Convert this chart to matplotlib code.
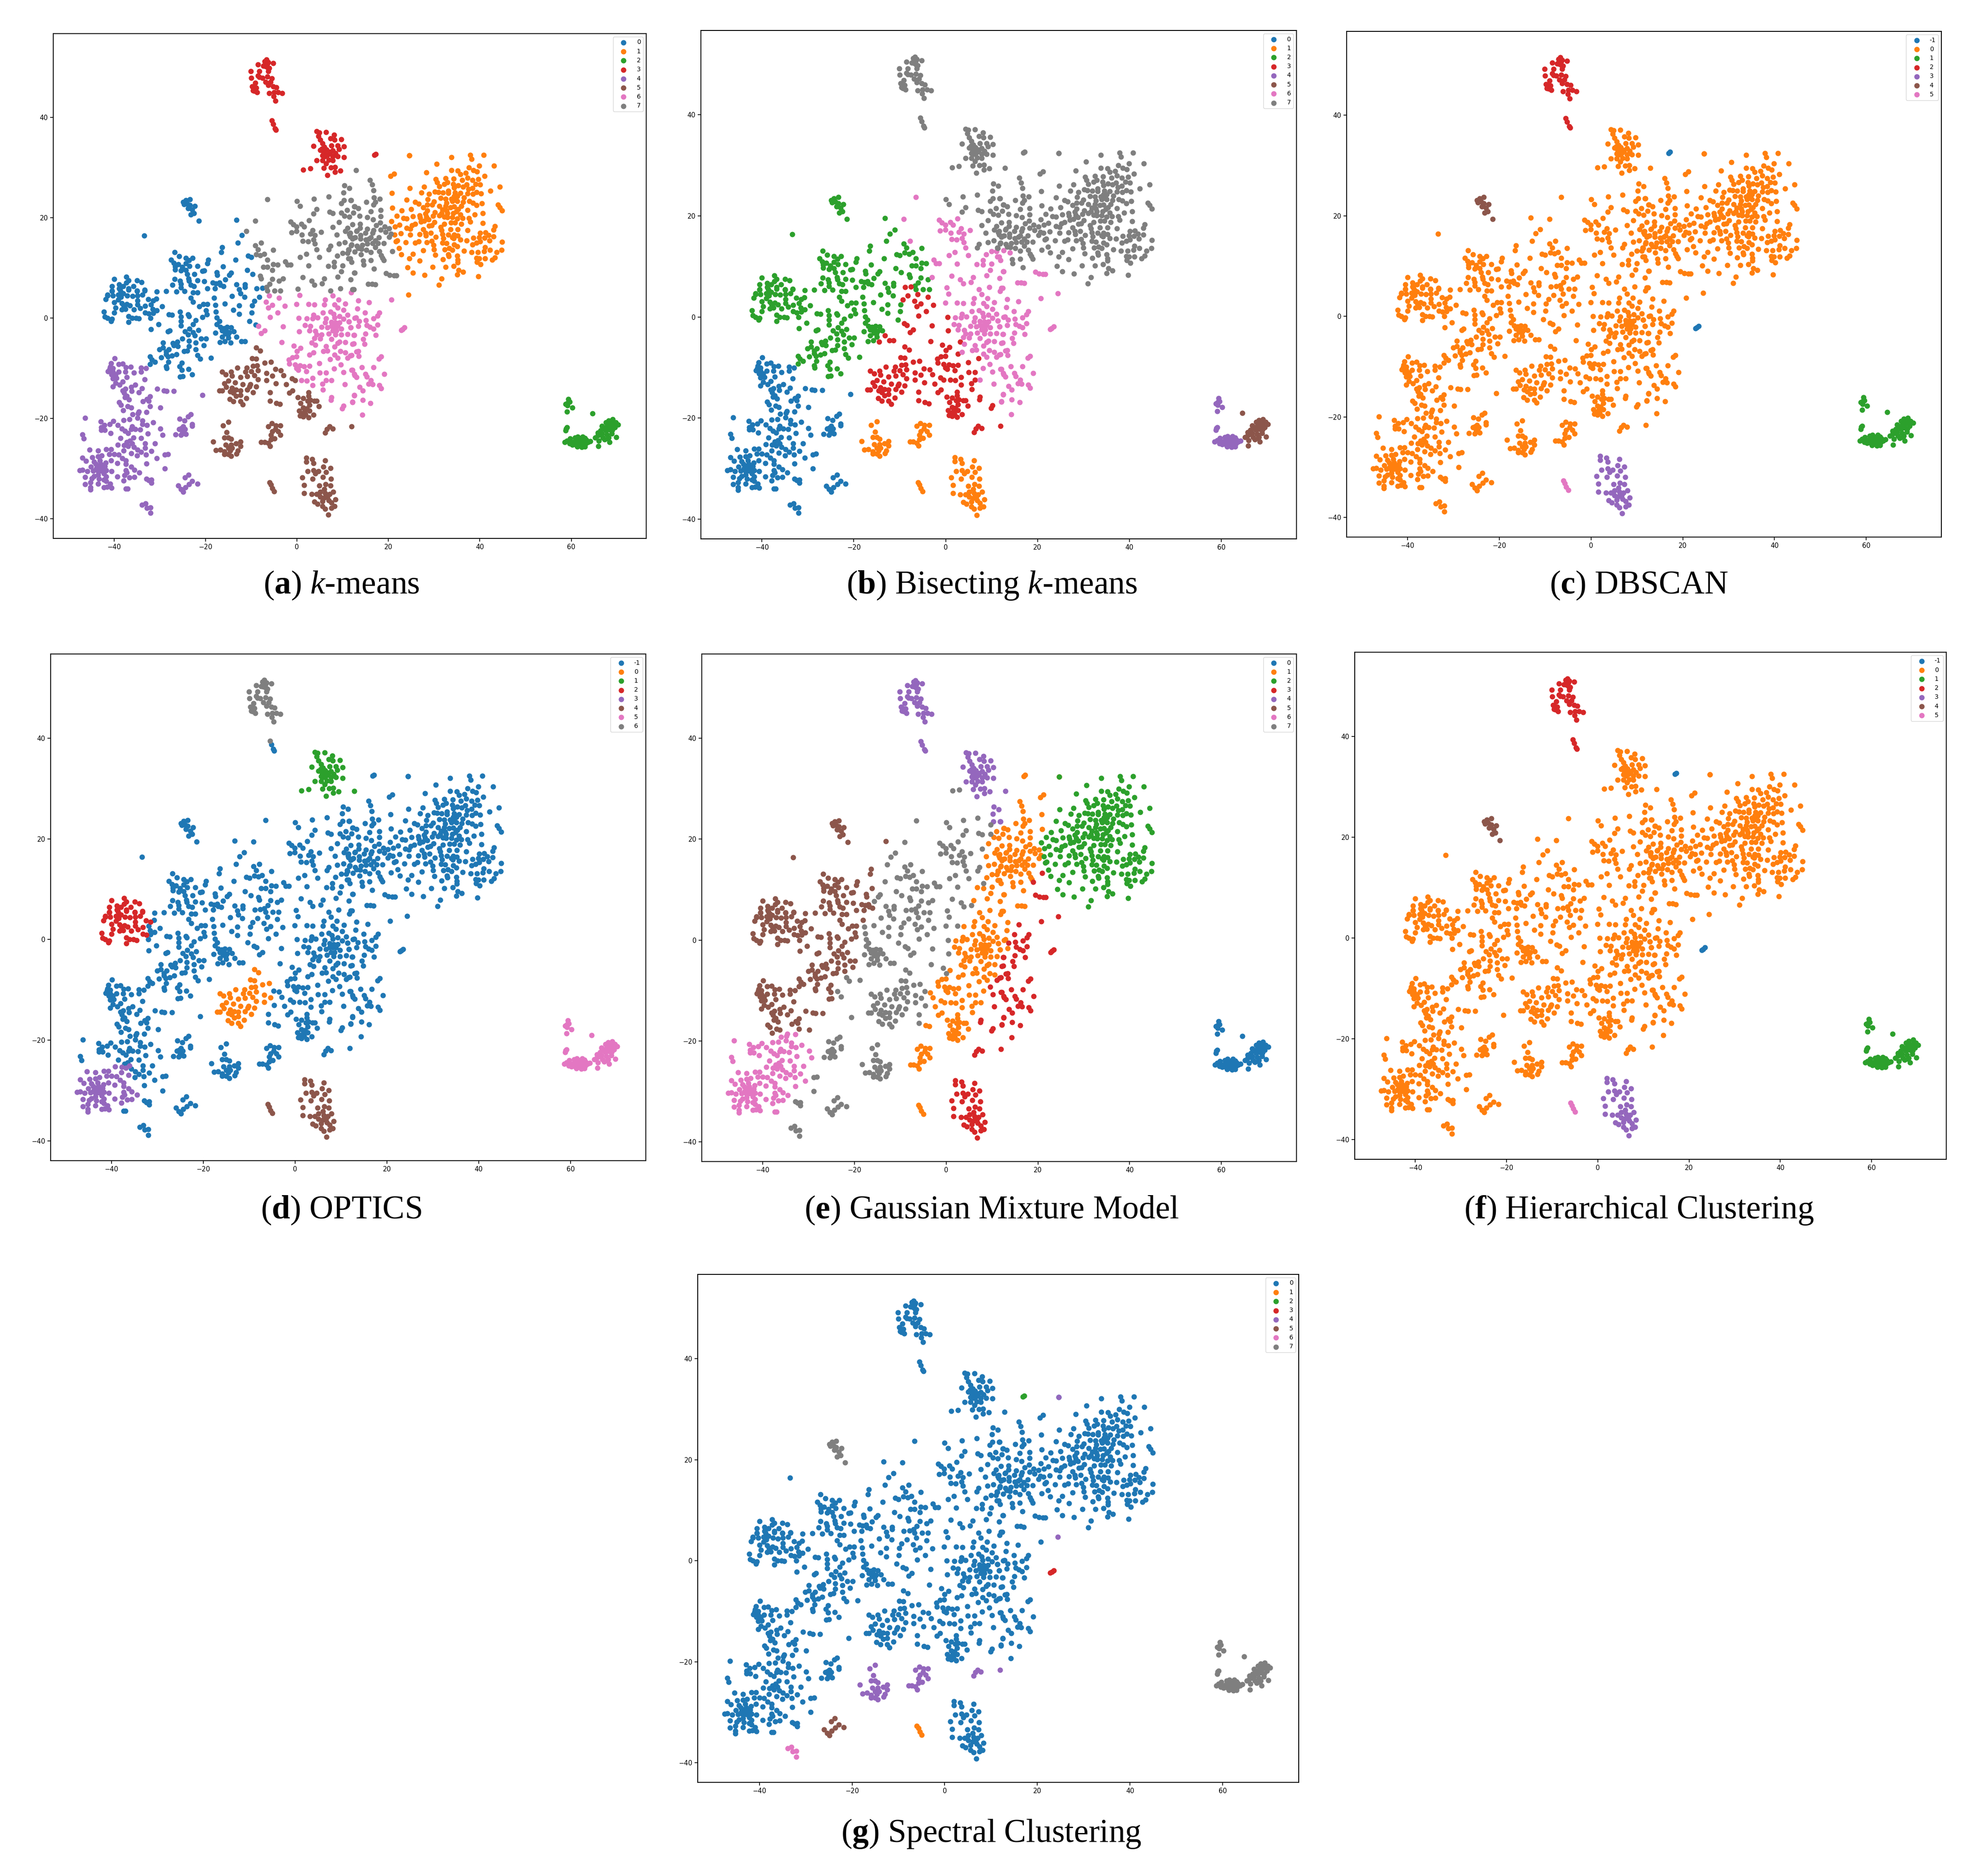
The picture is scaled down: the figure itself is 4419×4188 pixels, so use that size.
# t-SNE scatter, same embedding coloured by 7 clustering methods
import numpy as np
import matplotlib
matplotlib.use('Agg')
import matplotlib.pyplot as plt

plt.rcParams['mathtext.fontset'] = 'custom'
plt.rcParams['mathtext.rm'] = 'Liberation Serif'
plt.rcParams['mathtext.it'] = 'Liberation Serif:italic'
plt.rcParams['mathtext.bf'] = 'Liberation Serif:bold'

# points, one list per visible group
top = [(-6.7,51.5),(-7.1,51.2),(-6.3,51),(-6.5,50.7),(-7.4,50.3),(-6.9,50.2),(-6.4,49.9),(-6.1,49.8),(-5.2,50.8),(-8.5,50.5),(-10.1,49.2),(-8.2,49.2),(-6.3,49.2),(-8.5,48.3),(-10,47.9),(-8.2,48),(-7.6,47.9),(-6.5,48.1),(-5.5,47.8),(-6.9,47.1),(-5.8,47.1),(-9.1,46.9),(-6.3,46.4),(-5.2,46.2),(-4.5,46),(-9.8,46.2),(-9.1,45.7),(-9.6,45.4),(-8.7,45),(-9.3,45.3),(-8.9,45.9),(-9.5,46),(-6.1,44.8),(-5,45),(-4.1,45),(-3.2,44.8),(-5.1,44.2),(-4.7,43.3)]
tail = [(-5.5,39.4),(-5.2,38.7),(-4.8,37.8),(-4.6,37.5)]
upper = [(4.3,37.2),(4.9,37),(6.4,37.1),(4.7,36.3),(8.1,36.5),(7.3,35.8),(9.7,35.6),(8.2,35.5),(5.1,35.5),(3.6,34.3),(5.6,34.8),(7.5,34.4),(8.9,34.4),(10.3,34.2),(6,34.1),(5.1,33.5),(9.2,33.7),(7.8,33.4),(5.8,33.1),(8.4,32.9),(6.7,32.5),(5.6,32.4),(7.8,32.2),(10.3,32.1),(4.3,31.4),(5.6,31.4),(6.9,31.5),(7.8,31.4),(6.4,30.8),(1.4,29.6),(2.9,29.8),(5.9,29.9),(7.4,30),(8.3,30.1),(9.5,29.4),(8.3,29.1),(6.7,28.5),(6.2,32.2),(8.9,32.2),(7.1,33.1),(6.5,33.6),(5.5,33.8),(7.2,32.8),(6.1,32.8)]
right_blob = [(24.6,32.4),(33.8,32.1),(37.9,32.5),(38.2,31.7),(40.8,32.5),(30.6,30.7),(39.9,30.4),(43.1,30.4),(33.8,29.5),(35.2,29.4),(37.6,30),(38.6,29.5),(39.4,29.2),(28.3,29),(21.2,28.8),(20.5,28.3),(35.7,28.7),(36.9,28.9),(41,28.3),(32.5,27.9),(30.4,27.7),(34.3,27.8),(37.3,28),(36.1,27.5),(39.7,27.7),(38.4,27.5),(30.7,27.1),(32.9,27.1),(32.2,26.7),(34.2,26.7),(39.1,26.7),(40.1,26.6),(37.1,26.6),(31.1,26.3),(27.8,26.2),(44.4,26.2),(24.7,25.9),(34.4,26),(35.3,26.4),(36.3,26.2),(37.5,25.7),(38.4,25.9),(42.3,25.4),(20.8,24.9),(27.2,25),(30.2,25.2),(30.9,25.1),(31.9,25),(33.1,25.4),(28.9,24.7),(39.3,25.1),(34.6,25),(35.7,24.9),(37.3,24.8),(38.5,24.7),(40.3,24.8),(33.1,24.9),(34.4,24.3),(35.1,24.3),(24,23.6),(28.6,23.7),(31.4,23.9),(32.5,23.8),(33.8,23.8),(34.6,23.7),(36.5,24),(25.9,23.1),(26.6,22.8),(30,23.2),(32.7,23),(34,23.3),(35.1,23.3),(36.3,23.1),(37.7,23.3),(38.5,23),(40.4,22.9),(39.3,22.5),(44,22.6),(28.5,22.6),(29.6,22.6),(27.6,22.1),(31.1,22.3),(32.5,22.3),(33.6,22.1),(34.4,22.2),(35.9,22.3),(20.9,22),(44.4,22.1),(22.9,21.4),(25,21.7),(28.5,21.4),(31.8,21.6),(32.7,21.4),(35.3,21.7),(37.3,21.5),(44.9,21.4),(21.8,20.4),(26.8,20.5),(28.1,20.8),(30.2,21.1),(31.6,20.9),(32.9,20.9),(34.2,20.9),(34.9,21.3),(40.6,20.9),(38.9,20.6),(23.3,19.9),(24,19.8),(25.4,20.3),(26.9,20),(28.3,20.2),(29.8,20.4),(31.1,20.5),(32.2,20.2),(34,20.1),(35.7,20.6),(37.6,19.9),(20.7,19.3),(27.1,19.2),(27.8,19.4),(28.8,19.7),(30.1,19.1),(32.9,20.1),(35.1,19.8),(36.2,19.9),(37.9,19.2),(40.6,18.9),(22.4,18.6),(25.9,18.8),(25.2,18.5),(28.9,18.4),(29.5,18.5),(32.2,18.8),(33.7,19),(34.6,19),(35.9,18.8),(43.3,18.3),(21.4,18.2),(24,18),(24.8,17.8),(27.6,17.7),(31.4,18.1),(31.6,17.5),(33.6,17.7),(35.2,17.7),(37.3,17.5),(43,17.6),(21.3,16.6),(22.7,16.9),(24.8,16.6),(26.8,16.7),(28.1,17),(29.3,17),(28.2,16.4),(31.8,16.7),(33.1,16.6),(34.4,16.6),(40.1,17),(41.2,17.1),(41.9,16.5),(43,16.3),(30.4,16.2),(34,16.1),(35.2,16.4),(38.6,16),(39.9,16.1),(41,16),(21.9,15.5),(21.6,15.3),(23.8,15.1),(25.9,15),(26.6,15.3),(28.4,15.1),(29.5,15.4),(32,15.9),(34.3,15.9),(35.7,15.6),(37.1,15.5),(42.1,15.5),(44.9,15.2),(29.9,14.6),(31.8,15),(32.7,14.9),(34.4,14.7),(35.1,14.3),(38.4,14.7),(39.3,15),(40.1,15.3),(22.3,13.9),(30,13.7),(32.3,13.7),(33.3,13.9),(34,13.6),(36.5,13.4),(38.2,13.1),(39.6,13.1),(41.1,14.1),(40.9,13.3),(42.2,13.6),(43.7,13.1),(44.8,13.6),(22.8,12.7),(25.4,12.8),(27.6,13.5),(30.3,12.6),(33.1,12.7),(33.2,12.3),(24.6,11.9),(35.1,12.4),(39.3,12),(39.9,11.9),(41.1,11.9),(43.3,12.1),(42.7,11.6),(26.8,11.4),(31.9,11.7),(35.2,11.6),(35.2,11.1),(39.4,11.2),(40.2,10.7),(24.2,10.1),(29.7,10.2),(32.5,10.2),(34.3,10.4),(35.4,9.6),(36.3,9.2),(25.4,9),(27.9,8.6),(35.1,8.7),(39.7,8.3),(31.6,7.9),(31,6.6)]
mid_blob = [(-6.5,23.7),(0,23.3),(0.7,22.3),(3.7,23.8),(6.9,24.2),(10.4,26.4),(11.5,25.9),(10.2,25),(10.3,23.5),(11.8,23.5),(9.7,22.9),(12.6,22.2),(4.3,21.7),(3.6,20.8),(7.1,21.2),(7.8,20.9),(9.7,21),(11,21.5),(12.3,21),(10.4,20.4),(11.5,20.2),(-9.1,19.4),(2.6,19.5),(-1.4,19.2),(-0.8,18.7),(-0.1,18.2),(1,18.8),(9.2,19.1),(12.1,18.7),(7.8,18.1),(-11.1,17.3),(-1.2,17.1),(-0.1,17.3),(1.6,18.2),(3.4,17.5),(5.3,17.2),(11.1,18),(10.6,17.3),(11.5,16.7),(1.1,16.6),(2.9,16.8),(3.9,16.5),(8.7,16.6),(13,17.3),(12.4,16),(1.3,15.4),(2.4,15.3),(3.6,15.6),(3.9,14.8),(10.5,15.1),(9.2,14.8),(7.3,14.4),(6.9,13.7),(4.3,13.7),(11.9,14.7),(11.3,13.7),(11.1,13),(10,13),(-9.1,14.5),(-7.8,15),(-8.5,13.7),(-5.2,13.6),(-8.9,12.7),(-8,12.5),(-7.2,12.8),(-6.5,11.6),(0.7,12.2),(2,12.8),(4.9,12.2),(8.8,12.4),(11.3,11.9),(11.9,11.2),(-7.4,10.2),(-6.5,10.2),(-5.2,10.7),(-4.2,10.6),(-5.4,9.6),(-2.6,11.3),(-2.1,10.6),(-1.4,10.6),(2.5,10.5),(6.8,10.4),(8.1,11.2),(8.1,10.3),(10,10.5),(9.7,9.3),(-8,8.4),(-7.8,7.9),(-5.4,7.8),(-3,7.9),(-3.9,7.4),(1.3,8.1),(3.2,7.4),(6,7.9),(5.5,6.9),(8.9,8.2),(11.7,7.7),(12.6,9),(-6,6.8),(-6.7,6.2),(3.8,6.6),(-6.5,5.5),(-4.9,5.5),(-3.6,5.5),(0.2,5.8),(7.3,5.5),(9.5,5.9),(12.9,29.5),(16,27.5),(16.4,26.6),(16.7,25.5),(16.8,24),(18.1,23.8),(17.1,23.1),(15.2,23.1),(11.7,23.5),(16.7,22.6),(12.5,22.2),(13.4,21.9),(16.2,21.3),(18.3,21.5),(13.7,20.4),(18.3,20.3),(15.4,20.1),(16.6,19.7),(18.2,19),(17.3,18.5),(13.8,18.8),(19.2,18.2),(20.2,17.9),(13.8,18),(15.4,17.8),(13.1,17.4),(16.7,17.5),(18.3,17.6),(19.4,17.2),(15,17),(16.5,17),(20.6,16.8),(20.2,16.2),(11.6,17),(11.6,16.3),(12.7,16.1),(13.9,16.5),(13.9,15.8),(15.1,15.6),(16.2,16.1),(17.9,16.1),(17.1,15.5),(15.8,15.8),(12.1,15.8),(19,14.9),(17.7,14.9),(16.5,14.9),(15.4,14.8),(14.3,14.6),(13.1,14.4),(11.8,14.5),(13.4,13.9),(17.1,14.1),(15.2,13.6),(14.1,13.8),(12.6,13.2),(16.2,13.1),(18,13.3),(20.9,13.3),(11.4,13.6),(14,12.7),(18.4,12.5),(18.7,12),(19,11.5),(11.6,11.9),(14.5,11.4),(16.2,11.5),(14.6,10.6),(16.8,9.8),(12.5,9),(19.5,8.9),(20.3,8.6),(21.2,8.5),(21.7,8.5),(15.6,6.8),(16.4,6.8),(17.1,6.7),(12.1,5.7),(12.4,5.7)]
small_blob = [(-23.4,23.7),(-24.3,23.5),(-24.9,23.1),(-24,22.8),(-24.7,22.7),(-23.4,22.5),(-22.3,22.3),(-23.8,21.9),(-22.9,21.6),(-22.5,20.9),(-23.2,20.6),(-21.5,19.4)]
left_blob = [(-40,7.8),(-37.3,8.2),(-36.8,7.5),(-35,7.5),(-34,7.2),(-40.5,6.4),(-38.9,6.7),(-38,6.4),(-37.3,7.1),(-35.8,6.4),(-40.5,5.5),(-38.9,5.9),(-36.8,5.9),(-35,5.5),(-33.3,5.6),(-38.5,5.2),(-41.4,4.7),(-40.5,5.4),(-38.7,5.6),(-36.8,5.6),(-35,5.4),(-33.3,5.5),(-41.4,4.5),(-40.3,4.5),(-39.1,4.7),(-38,4.9),(-37.1,4.5),(-36,4.4),(-34.9,4.5),(-33.8,4.7),(-41.8,3.8),(-39.1,3.7),(-38.5,4.2),(-34.9,3.5),(-32.5,3.8),(-31.5,3.5),(-40,3.1),(-38.3,3),(-37.2,2.8),(-36.5,2.5),(-37.9,2.5),(-34.9,2.7),(-33.2,2.4),(-39.7,2.1),(-38.3,1.7),(-37.5,1.8),(-35.7,1.7),(-34.3,2),(-42.2,1.3),(-40,1.1),(-33.2,1.1),(-32.4,0.9),(-42,0.3),(-41.4,0),(-40.5,-0.2),(-40.7,-0.6),(-36.8,0.4),(-36.1,0),(-35.2,0),(-34.6,-0.1),(-36.8,-0.8)]
centre_blob = [(-33.4,16.4),(-13.2,19.6),(-26.8,13.1),(-25.8,12.3),(-24.3,12),(-22.8,12),(-27.5,11.6),(-26.9,11),(-26,10.7),(-23.6,11.5),(-24.3,10.9),(-23.5,10.4),(-26.7,10.3),(-25.1,10.2),(-26.7,9.7),(-25.4,9.5),(-24.3,9.6),(-24,8.8),(-23.7,7.9),(-23.6,7.4),(-26.8,7.8),(-16.4,14.1),(-16.6,13.1),(-12.9,15),(-12.1,16.5),(-19.4,11.6),(-19.6,10.9),(-21.8,10.4),(-10.7,12.4),(-10,12.2),(-13.4,11.6),(-16.2,10.3),(-20.7,9.4),(-20.3,9.5),(-17.5,9.1),(-17.4,8.6),(-22.4,8.8),(-14.4,9),(-14.8,8.6),(-10.9,9.6),(-9.7,8.8),(-21.8,7.5),(-20.3,7.3),(-18.4,7.1),(-17,7.1),(-15.7,7.7),(-16.8,6.6),(-17.7,6.9),(-16.1,6.4),(-25.6,7.4),(-25.4,6.8),(-25.4,6.1),(-27.2,6.6),(-23.2,6.6),(-22.5,6.4),(-19.6,5.9),(-17.9,5.9),(-13.2,6.7),(-11.4,6.7),(-11.4,6.2),(-12.6,5.7),(-8.8,5.9),(-7.6,6),(-30.7,5.3),(-28.6,5.4),(-26.4,5.3),(-24.6,5.4),(-22.7,5.1),(-21.8,5.1),(-30.8,3.9),(-31.9,2.7),(-29.5,2.3),(-31.6,1.8),(-30.7,1.5),(-31.5,1),(-32,0),(-30.3,-1.2),(-31.9,-2.2),(-27.8,-2.5),(-28.2,-2.7),(-28,0.7),(-27.3,0.6),(-25.6,1.3),(-23.8,0.7),(-23.6,0.4),(-25.4,0.3),(-25.4,-0.6),(-25.4,-1.5),(-22.1,-0.4),(-22.7,-1.2),(-20.7,0.2),(-19.9,1.5),(-19.7,0.7),(-23.2,4),(-22.7,3.2),(-21.4,2.3),(-20.5,2.8),(-19.6,2.8),(-18.1,4),(-17.8,2.6),(-15.8,2.9),(-17.7,1.3),(-17.5,0.1),(-17,-0.6),(-17.5,-1.2),(-13.9,1.6),(-12.6,2.5),(-12.6,0.8),(-14.2,4.4),(-12.4,4.9),(-11.5,4.2),(-9.8,2.5),(-9.3,3.4),(-8.2,4.2),(-9.9,1.1),(-10.4,-0.6),(-9,-1.3),(-15.9,-2.6),(-16.8,-1.8),(-15.3,-1.8),(-14.4,-1.9),(-16.4,-2.5),(-15.5,-2.5),(-14.8,-2.8),(-17.8,-2.9),(-13.8,-2.7),(-16.4,-3.7),(-15,-3.9),(-13.2,-3.7),(-16.9,-4.8),(-15.8,-4.6),(-14.5,-4.9),(-12.2,-4.6),(-11.4,-4.6),(-15.7,-3.1),(-15.1,-3.3),(-16,-2),(-23.5,-2.1),(-21.6,-2.4),(-24.5,-2.7),(-22.7,-2.8),(-22.3,-3.5),(-23.8,-3.3),(-25.1,-4.1),(-23.6,-4.5),(-21,-4.1),(-19.9,-4.1),(-22.1,-4.9),(-29.3,-4.9),(-27.1,-5),(-26.2,-4.7),(-26.9,-5.4),(-20.4,-5.4),(-23.6,-5.6),(-26.1,-5.6),(-22.1,-6.2),(-24.7,-6.6),(-24,-6.5),(-28,-6.2),(-30.1,-6.2),(-29.3,-5.9),(-28.6,-6.7),(-28.6,-7.2),(-28.2,-7.7),(-27.3,-7.5),(-26.4,-7.2),(-29.7,-7.8),(-32.1,-7.7),(-31.7,-8.3),(-31.1,-8.7),(-32.1,-9.2),(-28.1,-8.7),(-28.6,-9.6),(-28.5,-10),(-21.8,-7.4),(-21.2,-8.1),(-18.8,-7.9),(-25.2,-8.9),(-25.7,-9.6),(-25.2,-10.3),(-23.7,-10.2),(-22.9,-11.2),(-25.6,-11.7),(-25,-11.6)]
pink_blob = [(-6.1,4.5),(0.6,4.6),(7.8,4.5),(11.8,5.1),(-3.9,4),(-6.8,3.2),(-6.3,2.1),(-5.4,2.6),(-2.7,2.4),(-0.1,2.8),(2.5,2.8),(3.8,2.7),(6.2,3.7),(6,2.7),(9.1,3.7),(10.6,2.9),(8.2,2.7),(-4.2,1.1),(-5.9,0.2),(0.4,0),(2.1,-0.1),(5.7,1.1),(7.3,1.3),(8.9,2.1),(11.1,0.6),(10.2,1.6),(3.6,0.6),(4.5,0.1),(3.4,-0.1),(6.4,-0.1),(8,0.8),(9.3,0.4),(8.2,0.1),(12.6,0),(10.2,-0.2),(11.4,-0.7),(7.5,-0.8),(8.4,-0.9),(9.3,-0.9),(6.2,-0.9),(8.2,-1.6),(7.5,-1.6),(8.9,-1.6),(5.4,-1.8),(6.7,-1.9),(9.7,-2.1),(11.7,-1.9),(1.8,-1.4),(2.9,-1.6),(-3,-1.7),(-8.4,-1.6),(-7.1,-2.5),(-7.8,-3),(0.5,-2.7),(4,-2.6),(7.8,-2.5),(8.6,-2.5),(2.7,-2.5),(4.3,-3.3),(5.4,-3.3),(6.9,-3.1),(8.4,-3.3),(9.7,-3.3),(11.1,-3.2),(12.4,-3.4),(3.8,-4),(5.1,-4.1),(7.5,-4.2),(-3.3,-4.8),(3.2,-4.9),(9.3,-4.7),(10.6,-4.8),(8.9,-5),(12.4,-5.1),(4,-5.3),(-0.7,-5.5),(6.4,-5.6),(8.2,-5.7),(0.8,-6),(5.8,-6.6),(6.7,-6.5),(9.5,-6.6),(0,-6.6),(3.6,-6.9),(2.7,-7.3),(8.2,-7.3),(10.6,-6.9),(13,-6.7),(-1,-7.8),(-0.1,-7.7),(-1.8,-8.3),(11.9,-7.4),(11.1,-7.9),(8.9,-7.9),(7.2,-8.2),(4.9,-9),(2.7,-9.5),(-1.7,-9.1),(-0.4,-9.3),(0.7,-9.4),(1.6,-9.6),(-0.1,-10),(0.3,-10.3),(8.1,-10.1),(9.6,-9.3),(11.9,-10.3),(2,-10.6),(5,-10.9),(6.4,-10.9),(10.2,-10.8),(12.6,-11.4),(3.4,-11.9),(1,-12.4),(2.1,-12.5),(6.4,-12.4),(7.5,-12.4),(10.5,-13.2),(3.4,-13.4),(5.6,-13.1),(5.7,-14.3),(12.5,-15.4),(7.5,-15.8),(7.4,-16.3),(12.1,-16.8),(10.2,-17.5),(9.9,-18),(20.7,3.7),(13.4,3.5),(15.8,3.1),(13.2,1.9),(14.9,1.1),(18,1.1),(17.6,0.5),(12.9,0.1),(16.7,-0.1),(15.1,-0.4),(13.6,-0.6),(11.4,-0.7),(17.6,-1.3),(15.3,-1.4),(13.4,-1.6),(16,-1.8),(16.7,-2.1),(11.7,-1.9),(15,-3.1),(12.5,-3.4),(17.2,-3.4),(14.5,-4.2),(12.1,-5.2),(14.8,-5.2),(13.4,-6.6),(11.6,-7.5),(13.5,-7.6),(18.4,-7.7),(17.9,-8.1),(14.2,-9.8),(16.7,-9.8),(12.1,-10.3),(19.1,-11.1),(12.5,-11.1),(15,-11.1),(13,-11.8),(15.3,-11.7),(16.2,-12.4),(15.7,-13.1),(16.5,-13.2),(13.7,-13.7),(18,-13.4),(18.4,-14),(14.4,-14.4),(12.5,-15.3),(14.4,-16.3),(12.1,-16.7),(16.1,-16.9),(14.3,-19.3)]
brown_i = [(-8.9,-5.9),(-8,-6.5),(-9.8,-8),(-8.9,-8.1),(-7.1,-8.9),(-5.7,-8.7),(-9.6,-9.5),(-8.7,-9.4),(-13,-9.9),(-11,-9.9),(-16.4,-10.7),(-14.4,-10.7),(-11.3,-10.7),(-10,-10.6),(-8.5,-10.4),(-6.7,-11),(-4.7,-10.2),(-15.6,-11.2),(-14.2,-11.5),(-12.4,-11.8),(-10.9,-11.6),(-9.3,-11.4),(-5.4,-11.5),(-8.5,-12.2),(-6.7,-12.4),(-15.9,-13),(-15,-12.5),(-13.5,-12.8),(-11.9,-13.2),(-10.2,-13.2),(-8.9,-13.6),(-4.6,-13),(-15.5,-13.7),(-14.2,-13.9),(-13.3,-14.3),(-12.4,-14.4),(-10.9,-14.3),(-10.4,-13.6),(-17,-14.4),(-16.4,-14.4),(-14.6,-14.6),(-13.9,-14.9),(-9.6,-14.8),(-5.9,-14.8),(-13.3,-15.5),(-12.4,-15.3),(-14.7,-16.1),(-13.9,-16.6),(-11.1,-16),(-12.4,-16.6),(-11.9,-17.2),(-5.9,-16.5),(-4.5,-16.9),(-3.7,-17.1)]
brown_far = [(-3.5,-10.4),(-2.9,-11.4),(-1.1,-12),(-0.4,-12.4),(-2.4,-13.2),(-1,-14.4),(-1.7,-14.9)]
brown_j = [(2.5,-14.8),(2.5,-15.5),(0.2,-15.8),(1.4,-16),(0.8,-16.9),(2.9,-16.3),(2.3,-16.5),(3.8,-16.5),(4.3,-16.5),(2.7,-17.3),(4.8,-17.6),(1.4,-17.8),(0.5,-18.5),(1.8,-18.4),(2.7,-18.5),(1.2,-19),(1.9,-19.2),(0.7,-19.4),(3.6,-19.3),(1.4,-19.6),(2.5,-19.8),(1.6,-18.8),(2.1,-18)]
brown_k = [(-15,-20.7),(-16.2,-21.4),(-15.4,-22.7),(-18.3,-24.6),(-15.9,-23.8),(-15,-23.8),(-12.4,-24.6),(-14.4,-24.1),(-15.6,-25.2),(-14.4,-25.2),(-13.3,-25),(-12.4,-25.5),(-15,-25.9),(-14.2,-25.9),(-17.7,-26.3),(-16.8,-26.2),(-15.9,-26.6),(-12.9,-26.4),(-14.6,-26.4),(-13.2,-27),(-15.9,-27.1),(-15,-27.1),(-14.4,-27.5)]
brown_l = [(-5.5,-21),(-6.3,-21.6),(-4.6,-21.4),(-3.6,-21.4),(-4.7,-22.1),(-4.1,-22.6),(-5.4,-22.6),(-5.7,-23.3),(-3.6,-23.3),(-4.9,-24),(-5.7,-24.2),(-7.8,-24.7),(-7.1,-24.7),(-6.3,-24.9),(-5.9,-25.5)]
brown_m = [(-6,-32.7),(-5.7,-33.2),(-5.4,-33.9),(-5,-34.5)]
brown_n = [(2,-27.8),(3.3,-28.1),(2,-28.6),(3.6,-28.9),(6.2,-28.4),(5.8,-29.6),(7.3,-29.9),(3.6,-30.3),(2.3,-30.5),(4.7,-30.5),(6.4,-30.7),(4,-31),(1.2,-31.8),(3.4,-32),(5.7,-31.7),(7.4,-32),(1.6,-33.3),(4.9,-33.4),(6.3,-33.1),(7.3,-33.4),(6,-34.1),(5.1,-34.6),(7.9,-34.6),(1.6,-34.9),(3.2,-35.1),(4.3,-35.1),(6.2,-34.9),(7.1,-35.1),(5.1,-35.6),(6,-35.8),(8.4,-36.1),(6.9,-36.3),(3.8,-36.6),(5.6,-36.5),(7.5,-36.8),(4.5,-37),(5.6,-37.5),(8.2,-37.5),(6.2,-38),(7.5,-37.8),(6.8,-39.2),(6.7,-35.6)]
brown_small = [(7.1,-21.6),(6.6,-22.1),(7.8,-22),(6.2,-22.8),(11.9,-21.6)]
purple_o = [(-39.9,-8),(-40.7,-9),(-39,-9.2),(-38.1,-9.1),(-40.9,-9.7),(-40.3,-10),(-37.4,-9.8),(-36.4,-9.7),(-34.1,-9.9),(-33,-10),(-41.3,-10.6),(-40.3,-10.7),(-39,-10.7),(-37.5,-10.7),(-35.7,-10.9),(-34.1,-10.7),(-40.6,-11.2),(-39.7,-11.2),(-37.2,-11.8),(-40.3,-12),(-39.5,-11.9),(-33.3,-12.2),(-39.7,-12.9),(-38.1,-12.7),(-38.8,-13.3),(-40.3,-13.6),(-35.4,-13.3),(-36.3,-13.7),(-33.9,-14),(-38.1,-14.4),(-37.5,-14.1),(-36.2,-14.5),(-34.6,-14.8),(-37.8,-14.9),(-37.2,-15.5),(-37.6,-15.8),(-36.7,-16.2),(-30.6,-14.1),(-29.1,-14.4),(-28.5,-14.5),(-26.9,-14.5),(-40.6,-10.3),(-41,-10.1),(-40.1,-11.5)]
purple_p = [(-32.1,-15.6),(-32.8,-16.1),(-33.7,-16.6),(-32.4,-16.5),(-38.9,-16.8),(-38.5,-17.3),(-37,-17.6),(-36.3,-17.8),(-32.1,-17.6),(-29.9,-17.8),(-38,-18.4),(-34.6,-18.6),(-32.9,-18.7),(-34.8,-19),(-36,-19.2),(-34.9,-19.9),(-37.9,-20.3),(-36.6,-20.2),(-33.8,-20.4),(-31.5,-20.8),(-33.8,-21.1),(-32.8,-21.3),(-39.2,-21.3),(-38.3,-22),(-36.1,-21.6),(-29.9,-22),(-37.6,-22.5),(-36.3,-22.1),(-35.4,-22.1),(-34.3,-22.2),(-36.9,-22.9),(-32.6,-23),(-29.4,-23.3),(-38.6,-23.9),(-34.1,-23.9),(-35.8,-23.8),(-36.5,-24.4),(-37.2,-24.7),(-39.2,-25.2),(-37.8,-25.3),(-36.1,-25),(-33.2,-25),(-31.1,-25),(-36.9,-25.5),(-35.7,-25.7),(-33.2,-25.9),(-34.9,-26.2),(-37.9,-26.4),(-31.8,-26.5),(-34.1,-26.7),(-36.3,-26.9),(-33,-27.2),(-35,-27.4),(-28.2,-27.1),(-28.9,-27.2),(-30.7,-27.9),(-32.9,-29),(-28.9,-30),(-46.3,-19.9),(-42.9,-20.6),(-40.2,-20.5),(-41,-21.1),(-42.1,-21.3),(-42.8,-21.8),(-42,-22.3),(-42.8,-22.3),(-40.8,-22.9),(-46.9,-23.2),(-46.6,-24)]
purple_q = [(-45.4,-26.2),(-43.5,-26.4),(-41.7,-26.1),(-40.7,-26.1),(-40,-27.1),(-41.1,-27.1),(-42.7,-27.4),(-43.5,-27.6),(-44.8,-27.7),(-46.9,-27.8),(-39,-27.2),(-38.2,-27.9),(-46.1,-28.5),(-44.4,-28.6),(-43.1,-28.4),(-41.8,-28.8),(-40.7,-28.4),(-39.3,-28.9),(-37.4,-28.4),(-37.4,-29.1),(-45.1,-29.6),(-44,-29.1),(-42.9,-29.1),(-42,-29.5),(-43.5,-29.8),(-42.7,-29.8),(-36.3,-29.6),(-47.5,-30.3),(-46.9,-30.2),(-45.9,-30.5),(-44.6,-30.4),(-43.5,-30.5),(-41.7,-30.3),(-40.6,-30.5),(-37.4,-30.3),(-35.6,-30.2),(-37.2,-30.8),(-34.5,-30.8),(-43.5,-31.2),(-42.2,-31),(-46.3,-31.7),(-44.4,-31.5),(-41.7,-31.6),(-39.3,-31.6),(-37.7,-31.3),(-36.6,-31.8),(-35.6,-31.7),(-44.9,-31.9),(-43.3,-32),(-42.2,-32.2),(-45.2,-32.7),(-40.9,-33),(-46.3,-33.1),(-43.5,-33),(-41.7,-32.5),(-37.9,-32.4),(-45.2,-33.7),(-42.2,-33.7),(-40.6,-33.8),(-45.2,-34.2),(-41.5,-33.6),(-37.4,-34),(-37,-34),(-43.1,-29.9),(-42.4,-30.1),(-43.9,-30),(-42.9,-30.4),(-43.2,-29.4)]
purple_r = [(-20.7,-15.3),(-23.2,-19.2),(-23.8,-19.6),(-25.7,-20.1),(-24.6,-20.4),(-22.9,-21.1),(-22.9,-21.5),(-24.9,-21.6),(-25.8,-22.1),(-24.5,-22.1),(-25.1,-22.6),(-24.3,-23.1),(-26.6,-23.2),(-25.4,-23.3),(-24.7,-22.9),(-25.3,-21.9)]
purple_s = [(-23.7,-31.2),(-24.5,-31.8),(-22.9,-32.5),(-23.6,-33.1),(-21.8,-33),(-26,-33.4),(-24.4,-33.7),(-25.4,-34.1),(-24.9,-34.6)]
purple_t = [(-33.9,-37.2),(-33.1,-36.9),(-32.8,-37.8),(-32,-37.7),(-32,-38.8)]
purple_v = [(-32.9,-32),(-32.4,-32.3),(-31.8,-32.2),(-31.8,-32.8)]
green_low = [(59.4,-16.1),(59.2,-16.9),(58.8,-17.1),(59.6,-16.7),(59.2,-17.4),(60.2,-17.8),(59.1,-18.6),(58.9,-22),(58.8,-22.4),(59.1,-21.8),(58.6,-24.7),(59.1,-24.4),(59.7,-24),(60.8,-23.8),(61.4,-23.6),(60,-24.8),(60.6,-24.6),(61,-24.4),(61.5,-24.3),(62,-24),(62.5,-23.6),(63,-23.9),(63.3,-24.3),(62.5,-24.6),(61.8,-25),(61,-25.2),(60.2,-25.2),(59.6,-25),(62.4,-25.3),(63.2,-25),(62.3,-25.7),(63.7,-24.7),(63,-25.6),(64.2,-24.5),(61.3,-25.6)]
green_high = [(64.6,-19),(65.2,-23.8),(66,-24.4),(65.9,-25.5),(68.4,-24.7),(69.8,-23.7),(70.2,-21.2),(69.1,-20.2),(68.2,-20.4),(67.6,-20.8),(66.7,-21.5),(69.7,-20.8),(69.5,-21.8),(68.6,-21.4),(67.8,-21.6),(68.4,-22.2),(67.6,-22.4),(66.4,-22.4),(65.8,-22.8),(66.7,-23),(67.8,-23.2),(68.9,-23),(65.8,-23.4),(66.9,-23.8),(68,-24),(67.3,-24.2),(68.2,-23.8),(67.1,-22),(69.1,-21),(68.2,-21),(67.6,-21.8),(66.4,-23.2),(69,-22.3)]
out_17 = [(16.9,32.5),(17.2,32.7)]
out_24top = [(24.6,32.4)]
out_24low = [(24.4,4.7)]
out_23 = [(22.8,-2.4),(23.1,-2.2),(23.5,-1.9)]

groups = {'top': top, 'tail': tail, 'upper': upper, 'right': right_blob, 'mid': mid_blob, 'small': small_blob,
          'left': left_blob, 'centre': centre_blob, 'pink': pink_blob, 'i': brown_i, 'far': brown_far, 'j': brown_j,
          'k': brown_k, 'l': brown_l, 'm': brown_m, 'n': brown_n, 'ns': brown_small, 'o': purple_o, 'p': purple_p,
          'q': purple_q, 'r': purple_r, 's': purple_s, 't': purple_t, 'v': purple_v, 'gl': green_low, 'gh': green_high,
          'o17': out_17, 'o24t': out_24top, 'o24l': out_24low, 'o23': out_23}

# cluster colour index of each group, one table per method
labels_a = dict(top=3, tail=3, upper=3, right=1, mid=7, small=0, left=0, centre=0, pink=6, i=5, far=5, j=5, k=5, l=5, m=5, n=5, ns=5,
                o=4, p=4, q=4, r=4, s=4, t=4, v=4, gl=2, gh=2, o17=3, o24t=1, o24l=1, o23=6)
labels_b = dict(top=7, tail=7, upper=7, right=7, mid=7, small=2, left=2, centre=2, pink=6, i=3, far=3, j=3, k=1, l=1, m=1, n=1, ns=3,
                o=0, p=0, q=0, r=0, s=0, t=0, v=0, gl=4, gh=5, o17=7, o24t=7, o24l=6, o23=6)
labels_c = dict(top=3, tail=3, upper=1, right=1, mid=1, small=5, left=1, centre=1, pink=1, i=1, far=1, j=1, k=1, l=1, m=6, n=4, ns=1,
                o=1, p=1, q=1, r=1, s=1, t=1, v=1, gl=2, gh=2, o17=0, o24t=1, o24l=1, o23=0)
labels_d = dict(top=7, tail=0, upper=2, right=0, mid=0, small=0, left=3, centre=0, pink=0, i=1, far=0, j=0, k=0, l=0, m=5, n=5, ns=0,
                o=0, p=0, q=4, r=0, s=0, t=0, v=0, gl=6, gh=6, o17=0, o24t=0, o24l=0, o23=0)
labels_e = dict(top=4, tail=4, upper=4, right=2, mid=7, small=5, left=5, centre=7, pink=1, i=7, far=1, j=1, k=7, l=1, m=1, n=3, ns=3,
                o=5, p=6, q=6, r=7, s=7, t=7, v=7, gl=0, gh=0, o17=1, o24t=1, o24l=3, o23=3)
labels_g = dict(top=0, tail=0, upper=0, right=0, mid=0, small=7, left=0, centre=0, pink=0, i=0, far=0, j=0, k=4, l=4, m=1, n=0, ns=4,
                o=0, p=0, q=0, r=0, s=5, t=6, v=0, gl=7, gh=7, o17=2, o24t=4, o24l=4, o23=3)

# parts of a group that went to another cluster: group, xmin, xmax, ymin, ymax, colour index (later wins)
parts_b = [('mid', -99, -3, -99, 99, 2), ('mid', -9.5, -6, 19, 24, 6), ('mid', -8, -7.5, 14.8, 15.2, 6),
           ('mid', -3, 6, -99, 20, 6), ('mid', 6, 14, -99, 13.5, 6), ('mid', 12, 23, -99, 9.5, 6),
           ('centre', -9.5, 0, -99, 8.5, 3), ('centre', -14.5, 0, -6, -3.5, 3),
           ('pink', -99, -1, -99, 99, 3), ('pink', -99, 0.8, -99, 2, 3), ('pink', -99, 3.2, -99, -4, 3),
           ('pink', -99, 7.2, -99, -8, 3), ('pink', -99, 10.5, -99, -14, 3)]
parts_d = [('tail', -99, 99, 39, 99, 7), ('mid', 12, 14, 29, 30, 2), ('i', -5, 0, -99, 99, 0), ('i', -7, 0, -99, -14, 0),
           ('p', -99, -36, -99, -25, 4), ('q', -38, -36, -35, -33.5, 0)]
parts_e = [('mid', -99, 99, 10, 30, 7), ('mid', 8.5, 99, -99, 20.5, 1), ('mid', 11, 99, -99, 28, 1), ('mid', 6, 99, -99, 11, 1),
           ('mid', 10, 13, 22.5, 27, 4), ('mid', 12.5, 14, 28, 30, 4), ('mid', 18.8, 99, -99, 14, 3),
           ('right', -99, 21.3, 20, 99, 1), ('upper', -99, 3.5, -99, 30, 7),
           ('centre', -99, -19.2, -99, 99, 5), ('centre', -99, -16, 4, 99, 5), ('centre', -22.5, 0, -99, -7, 7),
           ('centre', -24, 0, -99, -10, 7), ('centre', -99, 99, 19, 99, 5),
           ('pink', 13.5, 99, -99, 4, 3), ('pink', 11.5, 99, -99, -2, 3), ('pink', 9.5, 99, -99, -7, 3), ('pink', 7, 99, -99, -14, 3),
           ('pink', -99, -1.9, -7.5, 99, 7), ('pink', -99, 0.7, -6.8, 99, 7), ('pink', -99, 3.5, 2, 99, 7),
           ('i', -5, 0, -99, -16, 1), ('p', -99, 99, -18.5, 99, 5), ('p', -29.1, 0, -99, -25, 7)]
parts_none = []

legend_0_7 = ['0', '1', '2', '3', '4', '5', '6', '7']
legend_c = ['-1', '0', '1', '2', '3', '4', '5']
legend_d = ['-1', '0', '1', '2', '3', '4', '5', '6']

W, H = 4419, 4188
palette = ['C0', 'C1', 'C2', 'C3', 'C4', 'C5', 'C6', 'C7']

# pixel box left, right, top, bottom
panels = [
    ((119, 1443, 75, 1202), labels_a, parts_none, legend_0_7),
    ((1565, 2895, 68, 1203), labels_b, parts_b, legend_0_7),
    ((3007, 4335, 70, 1199), labels_c, parts_none, legend_c),
    ((113, 1442, 1460, 2591), labels_d, parts_d, legend_d),
    ((1567, 2895, 1460, 2593), labels_e, parts_e, legend_0_7),
    ((3025, 4346, 1456, 2588), labels_c, parts_none, legend_c),
    ((1558, 2900, 2845, 3979), labels_g, parts_none, legend_0_7),
]

captions = [
    (762, 1307, r'($\mathbf{a}$) $\mathit{k}$-means'),
    (2215, 1307, r'($\mathbf{b}$) Bisecting $\mathit{k}$-means'),
    (3660, 1307, r'($\mathbf{c}$) DBSCAN'),
    (762, 2702, r'($\mathbf{d}$) OPTICS'),
    (2214, 2702, r'($\mathbf{e}$) Gaussian Mixture Model'),
    (3660, 2702, r'($\mathbf{f}$) Hierarchical Clustering'),
    (2214, 4094, r'($\mathbf{g}$) Spectral Clustering'),
]

fig = plt.figure(figsize=(W / 100, H / 100), dpi=100)

for box, labels, parts, legend_names in panels:
    l, r, t, b = box
    ax = fig.add_axes([l / W, 1 - b / H, (r - l) / W, (b - t) / H])
    xs, ys, cs = [], [], []
    for name, pts in groups.items():
        for x, y in pts:
            c = labels[name]
            for part in parts:
                if part[0] == name and part[1] <= x <= part[2] and part[3] <= y <= part[4]:
                    c = part[5]
            xs.append(x)
            ys.append(y)
            cs.append(c)
    xs, ys, cs = np.array(xs), np.array(ys), np.array(cs)
    for i, lab in enumerate(legend_names):
        ax.scatter(xs[cs == i], ys[cs == i], s=75, color=palette[i], linewidths=0, label=lab)
    ax.set_xlim(-53.3, 76.4)
    ax.set_ylim(-43.9, 56.7)
    ax.set_xticks([-40, -20, 0, 20, 40, 60])
    ax.set_yticks([-40, -20, 0, 20, 40])
    ax.tick_params(labelsize=10.5, width=1.2, length=5)
    for s in ax.spines.values():
        s.set_linewidth(1.5)
    ax.legend(loc='upper right', fontsize=10, handlelength=2.6, labelspacing=0.45)

for x, y, txt in captions:
    fig.text(x / W, 1 - y / H, txt, ha='center', va='center', fontsize=53, family='Liberation Serif')

plt.savefig('out.png', dpi=100)
